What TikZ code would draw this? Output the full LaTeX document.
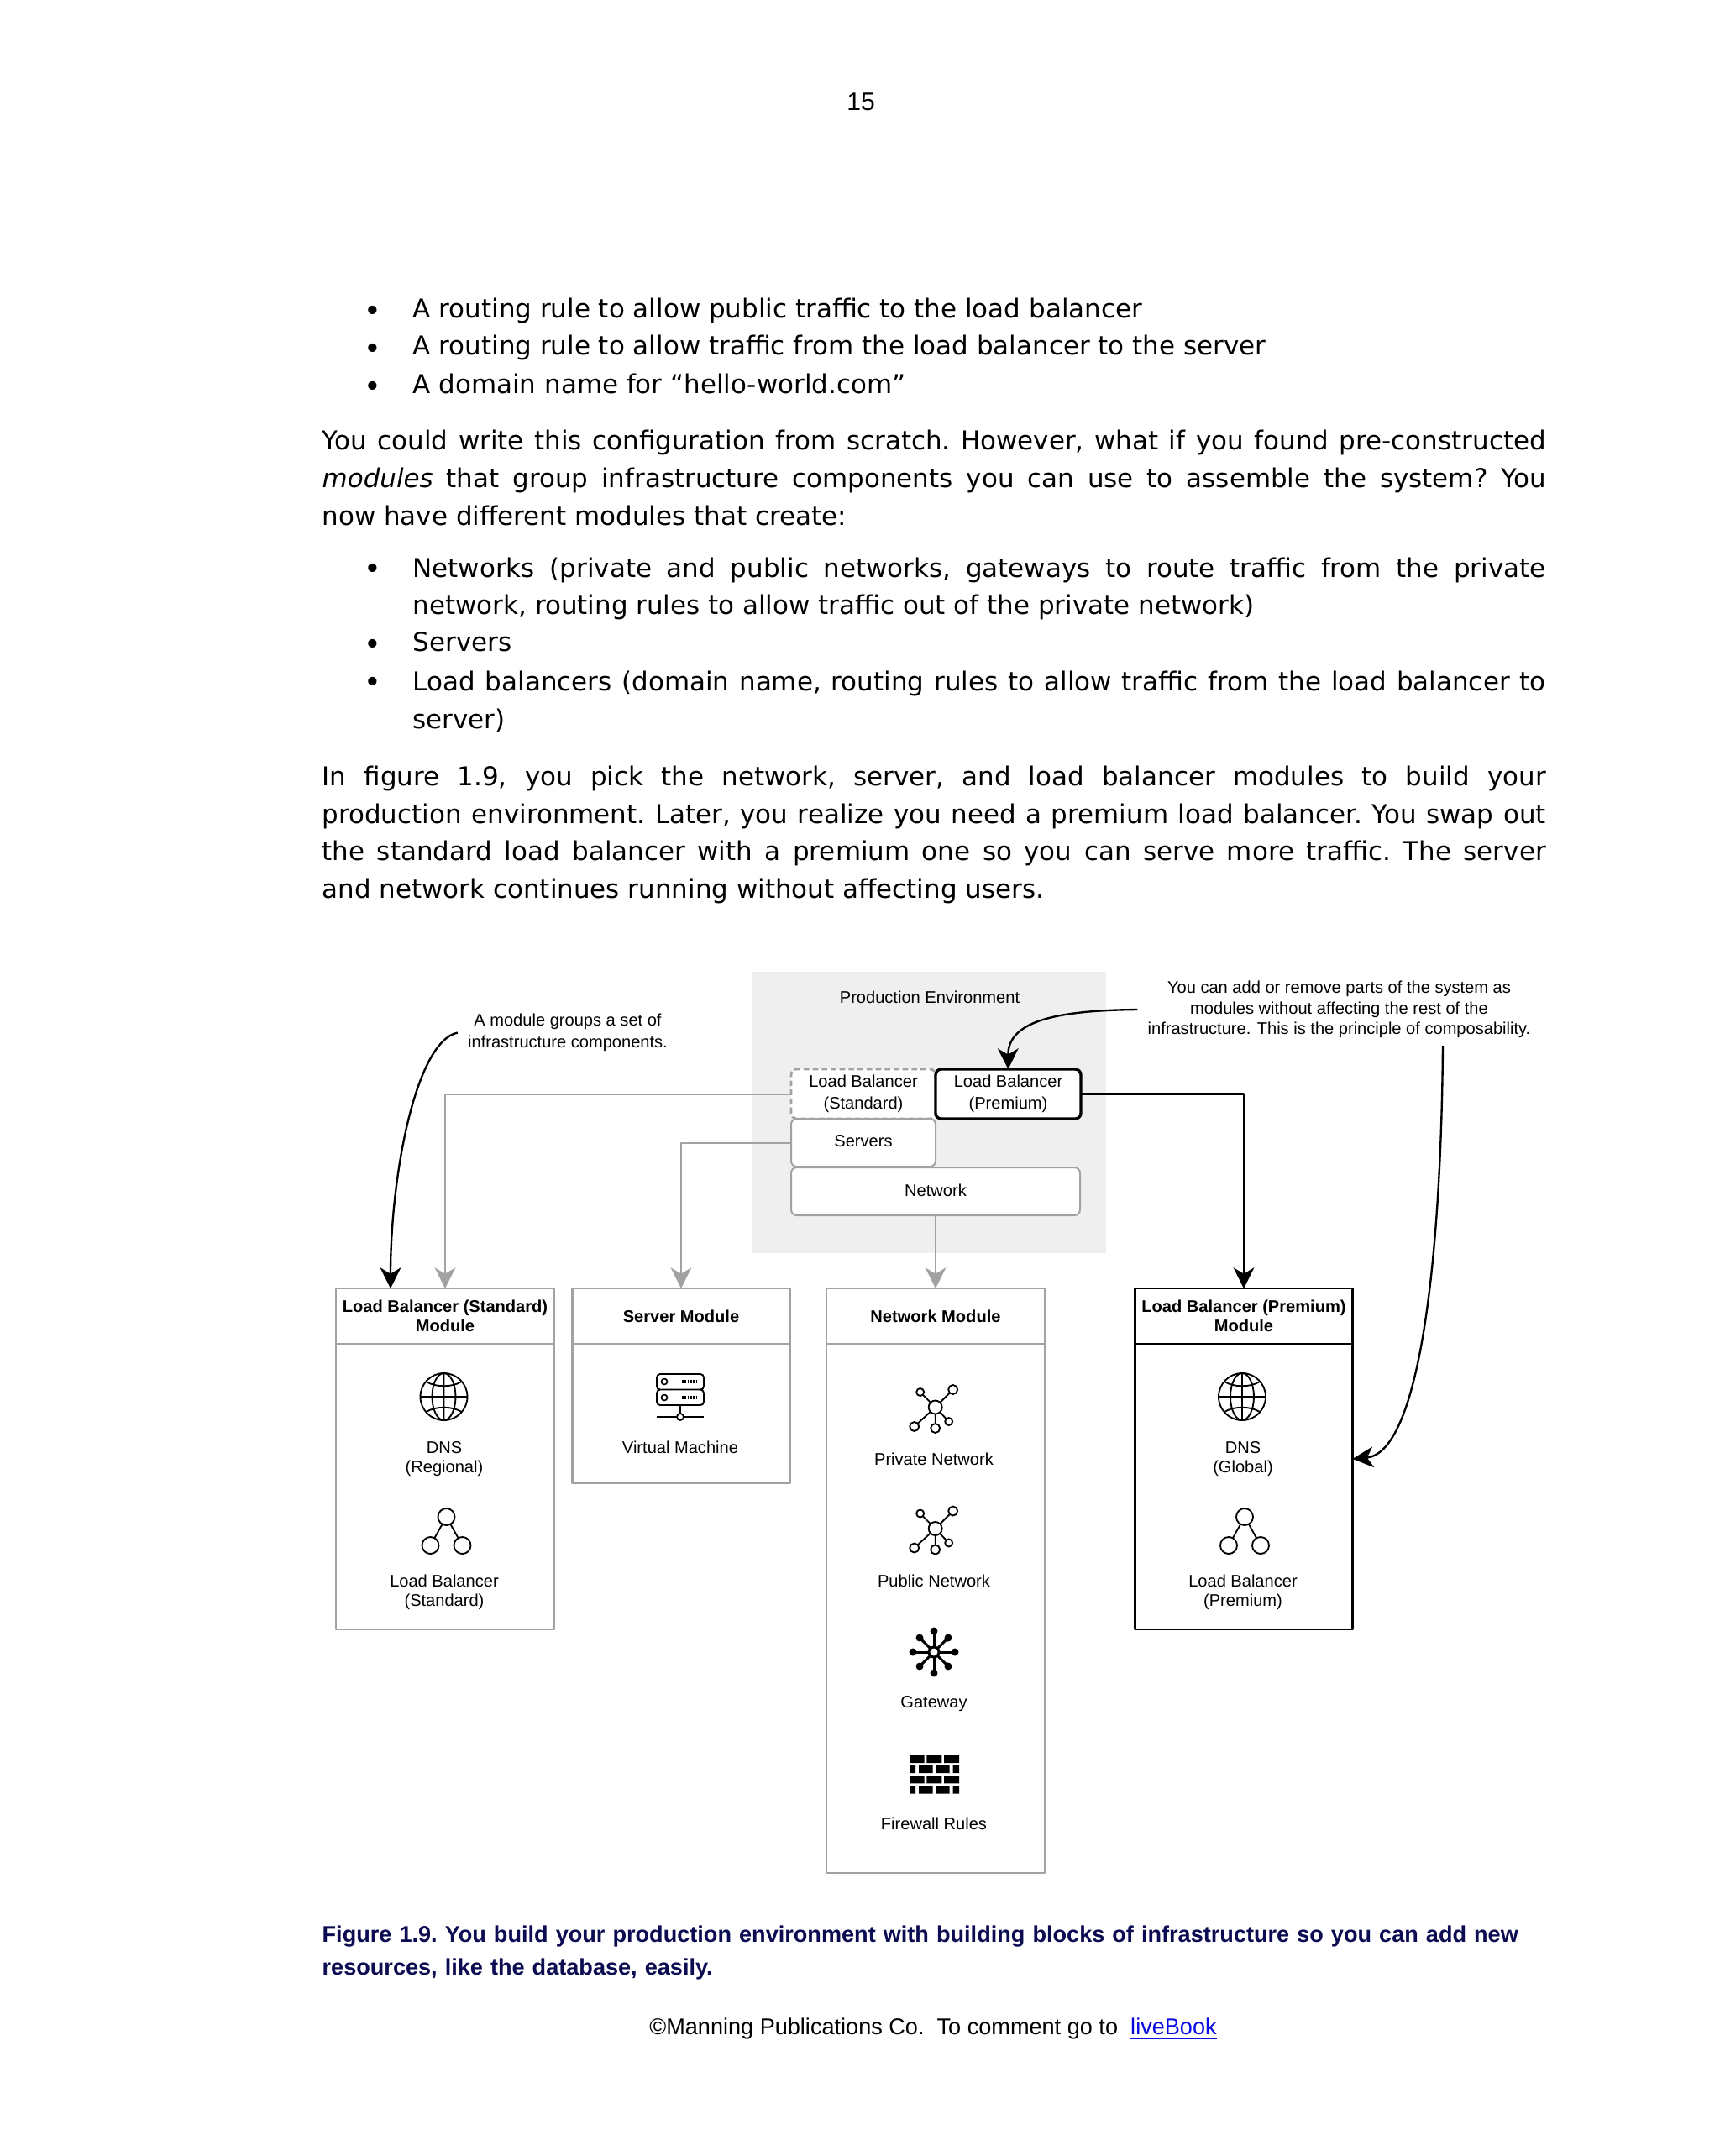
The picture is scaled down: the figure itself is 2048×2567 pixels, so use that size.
\documentclass[tikz,border=0pt]{standalone}
\usepackage{fontspec}
\setmainfont{DejaVu Sans}
\newfontfamily\arialfont{Liberation Sans}
\usetikzlibrary{arrows.meta}
\definecolor{boxgray}{HTML}{A2A2A2}
\definecolor{bggray}{HTML}{EFEFEF}
\definecolor{capblue}{HTML}{0C0C52}
\definecolor{linkblue}{HTML}{0A0AE0}
\newcommand{\pxu}{0.29883pt}
\tikzset{
	bodytext/.style={inner sep=0pt,anchor=west,font=\frenchspacing\fontsize{9.25}{13.36}\selectfont},
	justtext/.style={bodytext,align=justify},
	bulletmark/.style={inner sep=0pt,font=\fontsize{10.5}{13}\selectfont},
	diagtext/.style={inner sep=0pt,align=center,font=\arialfont\fontsize{6}{6.9}\selectfont},
	graybox/.style={draw=boxgray,fill=white,line width=0.6pt,rounded corners=2pt,outer sep=0pt,inner sep=0pt,align=center,font=\arialfont\fontsize{6}{7.8}\selectfont},
	modbox/.style={draw=boxgray,fill=white,line width=0.8pt,outer sep=0pt,inner sep=0pt,align=center,font=\arialfont\bfseries\fontsize{6}{6.9}\selectfont},
	modboxp/.style={modbox,draw=black},
	grayarrow/.style={->,draw=boxgray,line width=0.6pt},
	blackarrow/.style={->,draw=black,line width=0.7pt},
	pics/globeicon/.style={code={
		\draw[line width=0.55pt] (0,0) circle (28);
		\draw[line width=0.55pt] (-28,0) -- (28,0) (0,-28) -- (0,28) (0,0) ellipse (14 and 28);
		\draw[line width=0.55pt] (-21,-18) .. controls (-10,-11) and (10,-11) .. (21,-18);
		\draw[line width=0.55pt] (-21,18) .. controls (-10,11) and (10,11) .. (21,18);
	}},
	pics/lbicon/.style={code={
		\draw[line width=0.55pt] (0,0) -- (-19,34) (0,0) -- (19,34);
		\draw[line width=0.55pt,fill=white] (0,0) circle (10) (-19,34) circle (10) (19,34) circle (10);
	}},
	pics/neticon/.style={code={
		\draw[line width=0.55pt] (0,0) -- (-18,-18) (0,0) -- (21,-21) (0,0) -- (-25,23) (0,0) -- (0,25) (0,0) -- (16,17);
		\draw[line width=0.55pt,fill=white] (0,0) circle (8) (-18,-18) circle (4.5) (21,-21) circle (5.5) (-25,23) circle (5.5) (0,25) circle (5.5) (16,17) circle (4.5);
	}},
}
\begin{document}
\begin{tikzpicture}[x=\pxu,y=-\pxu,line join=round,>={Stealth[length=7.4pt,width=7.4pt,inset=2.2pt]}]
	\path[fill=white,use as bounding box] (0,0) rectangle (2048,2567);
	% page text
	\node[inner sep=0pt,font=\arialfont\fontsize{9}{11}\selectfont] (pagenum) at (1025,121) {15};
	\node[bulletmark] (bul1) at (444,373) {\textbullet};
	\node[bulletmark] (bul2) at (444,418) {\textbullet};
	\node[bulletmark] (bul3) at (444,463) {\textbullet};
	\node[bodytext] (item1) at (491,370) {A routing rule to allow public traffic to the load balancer};
	\node[bodytext] (item2) at (491,414) {A routing rule to allow traffic from the load balancer to the server};
	\node[bodytext] (item3) at (491,457) {A domain name for “hello-world.com”};
	\node[justtext,text width=435.4pt] (para1) at (383,569) {You could write this configuration from scratch. However, what if you found pre-constructed\linebreak \emph{modules} that group infrastructure components you can use to assemble the system? You\linebreak now have different modules that create:};
	\node[bulletmark] (bul4) at (444,680) {\textbullet};
	\node[bulletmark] (bul5) at (444,770) {\textbullet};
	\node[bulletmark] (bul6) at (444,815) {\textbullet};
	\node[justtext,text width=403.1pt] (item4) at (491,701) {Networks (private and public networks, gateways to route traffic from the private\linebreak network, routing rules to allow traffic out of the private network)};
	\node[bodytext] (item5) at (491,764) {Servers};
	\node[justtext,text width=403.1pt] (item6) at (491,835) {Load balancers (domain name, routing rules to allow traffic from the load balancer to\linebreak server)};
	\node[justtext,text width=435.4pt] (para2) at (383,994) {In figure 1.9, you pick the network, server, and load balancer modules to build your\linebreak production environment. Later, you realize you need a premium load balancer. You swap out\linebreak the standard load balancer with a premium one so you can serve more traffic. The server\linebreak and network continues running without affecting users.};
	% production environment
	\fill[bggray] (896,1157) rectangle (1317,1492);
	\node[diagtext] (prodlabel) at (1107,1187) {Production Environment};
	\node[graybox,draw=none,minimum width=172*\pxu,minimum height=59*\pxu] (lbs) at (1028,1302.5) {Load Balancer\\(Standard)};
	\draw[boxgray,line width=0.8pt,dash pattern=on 2pt off 1.2pt,rounded corners=2pt] (lbs.south west) rectangle (lbs.north east);
	\node[graybox,draw=black,line width=1pt,minimum width=173*\pxu,minimum height=59*\pxu] (lbp) at (1200.5,1302.5) {Load Balancer\\(Premium)};
	\node[graybox,minimum width=172*\pxu,minimum height=57*\pxu] (servers) at (1028,1360.5) {\raisebox{1pt}{Servers}};
	\node[graybox,minimum width=344*\pxu,minimum height=57*\pxu] (network) at (1114,1418.5) {\raisebox{0.5pt}{Network}};
	% notes
	\node[diagtext,font=\arialfont\fontsize{6}{7.8}\selectfont,inner sep=3.5pt] (modnote) at (676,1229.5) {A module groups a set of\\infrastructure components.};
	\node[diagtext,font=\arialfont\fontsize{6}{7.3}\selectfont,inner sep=3.5pt] (compnote) at (1594.5,1202) {You can add or remove parts of the system as\\modules without affecting the rest of the\\infrastructure. This is the principle of composability.};
	\coordinate (compout) at (1718,1245);
	% modules
	\node[modbox,minimum width=260*\pxu,minimum height=406*\pxu] (lbsmod) at (530,1737) {};
	\node[modbox,minimum width=260*\pxu,minimum height=66*\pxu] (lbshead) at (530,1567) {Load Balancer (Standard)\\Module};
	\node[modbox,minimum width=259*\pxu,minimum height=232*\pxu] (srvmod) at (811,1650) {};
	\node[modbox,minimum width=259*\pxu,minimum height=66*\pxu] (srvhead) at (811,1567) {Server Module};
	\node[modbox,minimum width=260*\pxu,minimum height=696*\pxu] (netmod) at (1114,1882) {};
	\node[modbox,minimum width=260*\pxu,minimum height=66*\pxu] (nethead) at (1114,1567) {Network Module};
	\node[modboxp,minimum width=259*\pxu,minimum height=406*\pxu] (lbpmod) at (1481,1737) {};
	\node[modboxp,minimum width=259*\pxu,minimum height=66*\pxu] (lbphead) at (1481,1567) {Load Balancer (Premium)\\Module};
	\coordinate (modtip) at (465,1534);
	% connectors
	\draw[grayarrow] (lbs.west) -| (lbsmod.north);
	\draw[grayarrow] (servers.west) -| (srvmod.north);
	\draw[grayarrow] (network.south) -- (netmod.north);
	\draw[blackarrow] (lbp.east) -| (lbpmod.north);
	\draw[blackarrow] (modnote.west) .. controls (495,1240) and (465,1400) .. (modtip);
	\draw[blackarrow] (compnote.west) .. controls (1260,1203) and (1200,1215) .. (lbp.north);
	\draw[blackarrow] (compout) .. controls (1716,1500) and (1690,1730) .. (lbpmod.east);
	% module contents
	\pic at (528.5,1663) {globeicon};
	\node[diagtext] (dnsr) at (529,1737) {DNS\\(Regional)};
	\pic at (531.5,1806) {lbicon};
	\node[diagtext] (lbsr) at (529,1896) {Load Balancer\\(Standard)};
	\draw[line width=0.55pt,rounded corners=1.2pt] (782,1636) rectangle (838,1654.5) (782,1654.5) rectangle (838,1673);
	\draw[line width=0.5pt] (791,1645) circle (3.5) (791,1664) circle (3.5);
	\draw[line width=1.2pt,dash pattern=on 0.5pt off 0.5pt] (812,1645) -- (832,1645) (812,1664) -- (832,1664);
	\draw[line width=0.55pt] (810,1673) -- (810,1687) (782,1687) -- (838,1687);
	\draw[line width=0.55pt,fill=white] (810,1687) circle (4);
	\node[diagtext] (vmlabel) at (810,1723) {Virtual Machine};
	\pic at (1113.7,1675.5) {neticon};
	\node[diagtext] (privlabel) at (1112,1737) {Private Network};
	\pic at (1113.7,1820) {neticon};
	\node[diagtext] (publabel) at (1112,1882) {Public Network};
	\draw[line width=0.9pt] (1112,1967) circle (6);
	\foreach \a in {0,90,180,270} {
		\draw[line width=0.9pt] (1112,1967) ++(\a:6) -- ++(\a:20);
		\fill (1112,1967) ++(\a:25) circle (4.5);
	}
	\foreach \a in {45,135,225,315} {
		\draw[line width=0.9pt] (1112,1967) ++(\a:6) -- ++(\a:17);
		\fill (1112,1967) ++(\a:24) circle (4.5);
	}
	\node[diagtext] (gwlabel) at (1112,2029) {Gateway};
	\foreach \y in {2090,2114.4} {
		\fill (1083,\y) rectangle (1100.7,\y+9) (1103.3,\y) rectangle (1121.3,\y+9) (1124,\y) rectangle (1142,\y+9);
		\fill (1083,\y+12.2) rectangle (1090,\y+21.2) (1094,\y+12.2) rectangle (1110.7,\y+21.2) (1115,\y+12.2) rectangle (1130.7,\y+21.2) (1134.7,\y+12.2) rectangle (1142,\y+21.2);
	}
	\node[diagtext] (fwlabel) at (1112,2171) {Firewall Rules};
	\pic at (1479,1663) {globeicon};
	\node[diagtext] (dnsg) at (1480,1737) {DNS\\(Global)};
	\pic at (1482,1806) {lbicon};
	\node[diagtext] (lbpr) at (1480,1896) {Load Balancer\\(Premium)};
	% caption and footer
	\node[inner sep=0pt,anchor=west,text width=450pt,text=capblue,font=\frenchspacing\arialfont\bfseries\fontsize{8.1}{11.7}\selectfont] (caption) at (383,2325) {Figure 1.9. You build your production environment with building blocks of infrastructure so you can add new\\resources, like the database, easily.};
	\node[inner sep=0pt,font=\arialfont\fontsize{8.1}{10}\selectfont] (footer) at (1111,2416) {©Manning Publications Co.\ \ To comment go to\ \ \textcolor{linkblue}{\underline{liveBook}}};
\end{tikzpicture}
\end{document}
